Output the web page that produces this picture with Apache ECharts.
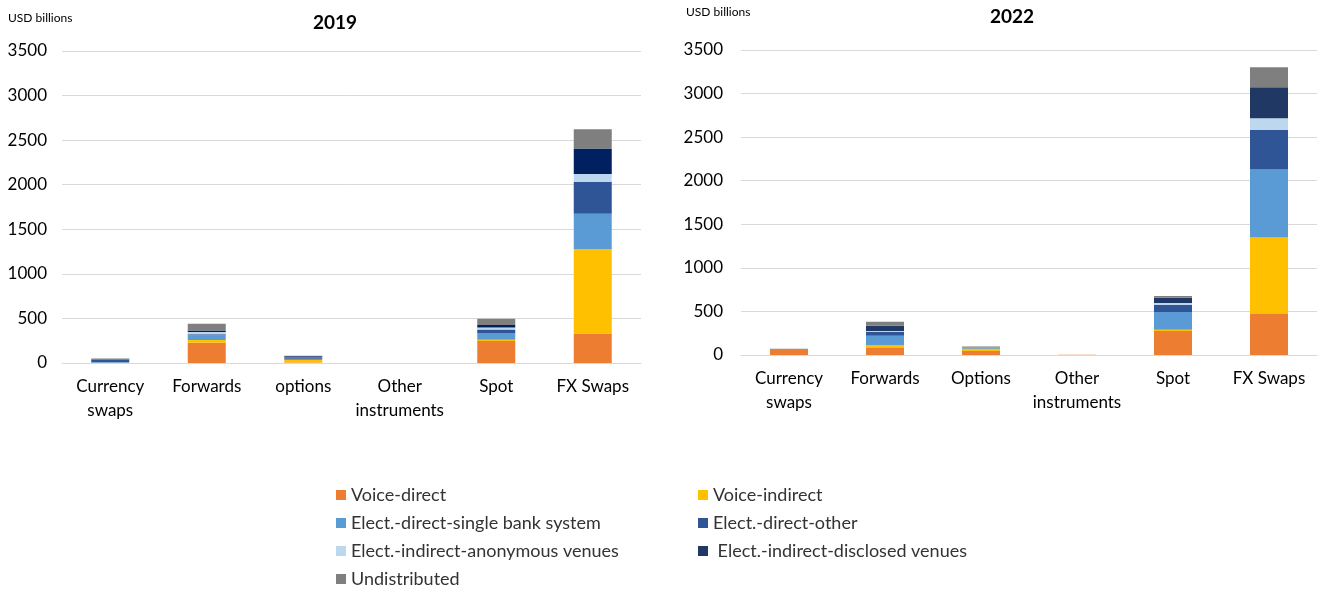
<!DOCTYPE html>
<html>
<head>
<meta charset="utf-8">
<script src="https://cdn.jsdelivr.net/npm/echarts@6/dist/echarts.min.js"></script>
<style>
html,body{margin:0;padding:0;background:#fff;}
#chart{width:1320px;height:592px;}
</style>
</head>
<body>
<div id="chart"></div>
<script>
// ---- Data ----
const categories2019 = ['Currency\nswaps', 'Forwards', 'options', 'Other\ninstruments', 'Spot', 'FX Swaps'];
const categories2022 = ['Currency\nswaps', 'Forwards', 'Options', 'Other\ninstruments', 'Spot', 'FX Swaps'];
const yTicks = [0, 500, 1000, 1500, 2000, 2500, 3000, 3500];

const seriesNames = ['Voice-direct', 'Voice-indirect', 'Elect.-direct-single bank system', 'Elect.-direct-other',
  'Elect.-indirect-anonymous venues', ' Elect.-indirect-disclosed venues', 'Undistributed'];

// 2019 (USD billions)
const voiceDirect2019   = [2, 228, 5, 0, 247, 332];
const voiceIndirect2019 = [1, 30, 28, 0, 15, 946];
const singleBank2019    = [8, 52, 15, 0, 75, 396];
const directOther2019   = [22, 12, 12, 0, 40, 359];
const anonymous2019     = [2, 27, 3, 0, 22, 86];
const disclosed2019     = [3, 15, 14, 0, 27, 287];
const undistributed2019 = [13, 75, 3, 0, 71, 217];

// 2022 (USD billions)
const voiceDirect2022   = [57, 80, 46, 2, 276, 471];
const voiceIndirect2022 = [0, 34, 27, 1, 15, 876];
const singleBank2022    = [2, 107, 5, 0, 203, 781];
const directOther2022   = [1, 42, 3, 0, 84, 456];
const anonymous2022     = [0, 11, 1, 0, 19, 133];
const disclosed2022     = [0, 61, 3, 0, 61, 356];
const undistributed2022 = [12, 46, 12, 1, 19, 230];

// ---- Styles ----
const colors2019 = ['#ED7D31', '#FFC000', '#5B9BD5', '#2F5597', '#BDD7EE', '#002060', '#7F7F7F'];
const colors2022 = ['#ED7D31', '#FFC000', '#5B9BD5', '#2F5597', '#BDD7EE', '#203864', '#7F7F7F'];
const FONT = 'Lato';

const data2019 = [voiceDirect2019, voiceIndirect2019, singleBank2019, directOther2019, anonymous2019, disclosed2019, undistributed2019];
const data2022 = [voiceDirect2022, voiceIndirect2022, singleBank2022, directOther2022, anonymous2022, disclosed2022, undistributed2022];

function makeSeries(dataArr, colors, idx, stack) {
  return dataArr.map((d, i) => ({
    name: seriesNames[i],
    type: 'bar',
    stack: stack,
    xAxisIndex: idx,
    yAxisIndex: idx,
    barWidth: 38,
    itemStyle: { color: colors[i] },
    emphasis: { disabled: true },
    data: d
  }));
}

function yAxis(idx, margin) {
  return {
    gridIndex: idx,
    type: 'value',
    min: yTicks[0],
    max: yTicks[yTicks.length - 1],
    interval: 500,
    axisLine: { show: false },
    axisTick: { show: false },
    splitLine: { lineStyle: { color: '#D9D9D9', width: 1 } },
    axisLabel: { color: '#000', fontFamily: FONT, fontSize: 17, margin: margin,
      formatter: v => String(v) }
  };
}

function xAxis(idx, cats) {
  return {
    gridIndex: idx,
    type: 'category',
    data: cats,
    axisLine: { lineStyle: { color: '#D9D9D9', width: 1 } },
    axisTick: { show: false },
    axisLabel: { interval: 0, color: '#000', fontFamily: FONT, fontSize: 17, lineHeight: 24, margin: 12 }
  };
}

function legendCol(left, items) {
  return {
    orient: 'vertical', left: left, top: 486, itemGap: 10, padding: 0,
    itemWidth: 10, itemHeight: 10, icon: 'rect', selectedMode: false,
    textStyle: { fontFamily: FONT, fontSize: 18, lineHeight: 18, color: '#333' },
    data: items
  };
}

const chart = echarts.init(document.getElementById('chart'), null, { renderer: 'canvas' });

const option = {
  animation: false,
  backgroundColor: '#fff',
  title: [
    { text: '2019', left: 330, top: 8, textAlign: 'center',
      textStyle: { fontFamily: FONT, fontSize: 19, fontWeight: 'bold', color: '#000' } },
    { text: '2022', left: 1007, top: 2, textAlign: 'center',
      textStyle: { fontFamily: FONT, fontSize: 19, fontWeight: 'bold', color: '#000' } },
    { text: 'USD billions', left: 3, top: 7,
      textStyle: { fontFamily: FONT, fontSize: 12, fontWeight: 'normal', color: '#000' } },
    { text: 'USD billions', left: 681, top: 1,
      textStyle: { fontFamily: FONT, fontSize: 12, fontWeight: 'normal', color: '#000' } }
  ],
  grid: [
    { left: 62, right: 679, top: 51, bottom: 229 },
    { left: 741, right: 3, top: 50, bottom: 237 }
  ],
  xAxis: [xAxis(0, categories2019), xAxis(1, categories2022)],
  yAxis: [yAxis(0, 15), yAxis(1, 18)],
  legend: [
    legendCol(336, [seriesNames[0], seriesNames[2], seriesNames[4], seriesNames[6]]),
    legendCol(698, [seriesNames[1], seriesNames[3], seriesNames[5]])
  ],
  series: [
    ...makeSeries(data2022, colors2022, 1, 'y2022'),
    ...makeSeries(data2019, colors2019, 0, 'y2019')
  ]
};

chart.setOption(option);
</script>
</body>
</html>
